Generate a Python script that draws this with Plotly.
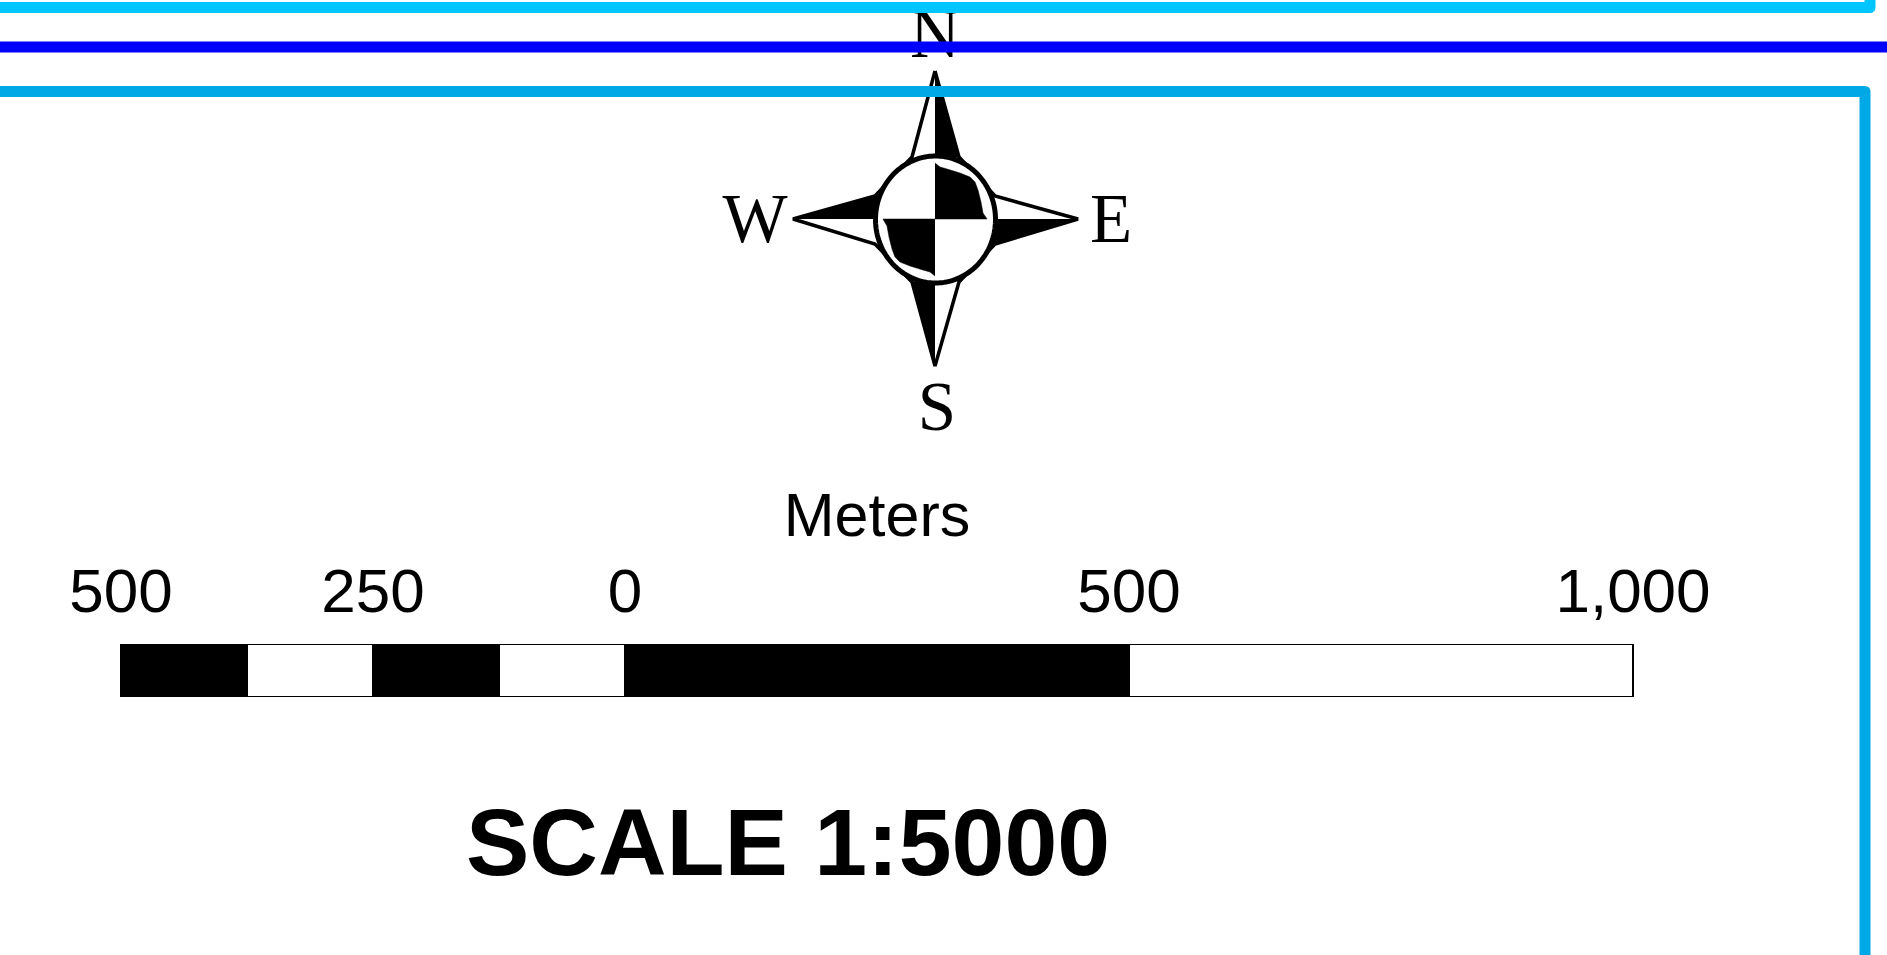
import numpy as np
import plotly.graph_objects as go

# scale bar, in metres
bar_starts = [-500, -375, -250, -125, 0, 500]
bar_widths = [125, 125, 125, 125, 500, 500]
bar_colors = ["#000000", "#ffffff", "#000000", "#ffffff", "#000000", "#ffffff"]
tick_vals = [-500, -250, 0, 500, 1000]
tick_text = ["500", "250", "0", "500", "1,000"]

# boundary lines
top_x = [0, 1870, 1870]
top_y = [7.5, 7.5, -20]
mid_x = [0, 1887]
mid_y = [47, 47]
low_x = [0, 1865, 1865]
low_y = [91.5, 91.5, 975]

# compass rose
star_x = [935, 959, 995, 1078, 995, 959, 935, 912, 875, 793, 875, 912, 935]
star_y = [71, 157, 196, 219, 244, 282, 366, 282, 244, 219, 196, 157, 71]
black_x = [[935, 959, 935], [1078, 995, 935], [935, 912, 935], [793, 875, 935]]
black_y = [[71, 157, 157], [219, 244, 219], [366, 282, 282], [219, 196, 219]]
quad_x = [[935, 940, 947, 960, 970, 975, 978, 981, 983, 987, 935],
          [935, 930, 923, 910, 900, 895, 892, 889, 887, 883, 935]]
quad_y = [[163, 167, 169, 173, 177, 182, 190, 202, 213, 219, 219],
          [276, 272, 270, 266, 262, 257, 249, 237, 226, 219, 219]]
t = np.linspace(0, 2 * np.pi, 181)
ring_x = 935.5 + 60 * np.cos(t)
ring_y = 219.5 + 63.5 * np.sin(t)

letters = ["N", "S", "W", "E"]
letters_x = [935, 937, 755, 1111]
letters_y = [40, 413, 225, 225]

fig = go.Figure()

# compass
fig.add_trace(go.Scatter(x=star_x, y=star_y, mode="lines", fill="toself", fillcolor="#ffffff",
                         line=dict(color="#000000", width=3.5), hoverinfo="skip"))
for bx, by in zip(black_x, black_y):
    fig.add_trace(go.Scatter(x=bx, y=by, mode="lines", fill="toself", fillcolor="#000000",
                             line=dict(color="#000000", width=1), hoverinfo="skip"))
fig.add_trace(go.Scatter(x=ring_x, y=ring_y, mode="lines", fill="toself", fillcolor="#ffffff",
                         line=dict(color="#000000", width=5, simplify=False), hoverinfo="skip"))
for qx, qy in zip(quad_x, quad_y):
    fig.add_trace(go.Scatter(x=qx, y=qy, mode="lines", fill="toself", fillcolor="#000000",
                             line=dict(color="#000000", width=0.5, simplify=False), hoverinfo="skip"))
fig.add_trace(go.Scatter(x=letters_x, y=letters_y, mode="text", text=letters, textposition="middle center",
                         textfont=dict(family="Liberation Serif", size=69, color="#000000"),
                         cliponaxis=False, hoverinfo="skip"))

# titles
fig.add_trace(go.Scatter(x=[877], y=[521], mode="text", text=["Meters"], textposition="middle center",
                         textfont=dict(family="Liberation Sans", size=61, color="#000000"),
                         cliponaxis=False, hoverinfo="skip"))
fig.add_trace(go.Scatter(x=[788], y=[851], mode="text", text=["<b>SCALE 1:5000</b>"], textposition="middle center",
                         textfont=dict(family="Liberation Sans", size=95, color="#000000"),
                         cliponaxis=False, hoverinfo="skip"))

# boundary lines on top
fig.add_trace(go.Scatter(x=top_x, y=top_y, mode="lines", line=dict(color="#00C5FF", width=11), hoverinfo="skip"))
fig.add_trace(go.Scatter(x=mid_x, y=mid_y, mode="lines", line=dict(color="#0000FF", width=11), hoverinfo="skip"))
fig.add_trace(go.Scatter(x=low_x, y=low_y, mode="lines", line=dict(color="#00A9E6", width=11), hoverinfo="skip"))

# scale bar
fig.add_trace(go.Bar(x=bar_widths, base=bar_starts, y=[0] * len(bar_widths), orientation="h", width=1,
                     marker=dict(color=bar_colors, line=dict(color="#000000", width=2)),
                     xaxis="x2", yaxis="y2", hoverinfo="skip"))

px_per_m = (1633 - 121) / 1500
x0_px = 625
fig.update_layout(
    width=1887, height=955, margin=dict(l=0, r=0, t=0, b=0, pad=0),
    paper_bgcolor="#ffffff", plot_bgcolor="rgba(0,0,0,0)", showlegend=False, barmode="overlay",
    xaxis=dict(range=[0, 1887], visible=False, domain=[0, 1]),
    yaxis=dict(range=[955, 0], visible=False, domain=[0, 1]),
    xaxis2=dict(range=[(0 - x0_px) / px_per_m, (1887 - x0_px) / px_per_m], domain=[0, 1], anchor="y2", side="top",
                tickmode="array", tickvals=tick_vals, ticktext=tick_text, ticks="", ticklabelstandoff=19,
                tickfont=dict(family="Liberation Sans", size=62, color="#000000"),
                showgrid=False, zeroline=False, showline=False, automargin=False),
    yaxis2=dict(range=[-0.5, 0.5], domain=[1 - 697 / 955, 1 - 644 / 955], anchor="x2", visible=False, automargin=False),
)

fig.write_html("out.html", config={"displayModeBar": False},
               post_script="document.body.style.margin='0';document.body.style.overflow='hidden';"
                           "document.querySelectorAll('.scatterlayer .js-line').forEach(function(p){"
                           "var s=p.style.stroke;if(s.indexOf('197')>=0||s.indexOf('169')>=0){p.style.strokeLinejoin='round';}});")
